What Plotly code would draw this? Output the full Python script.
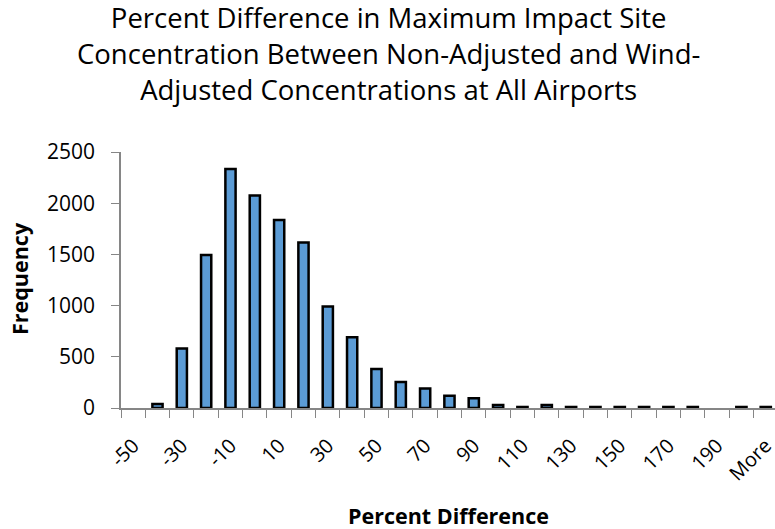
import plotly.graph_objects as go

# Histogram bins (percent difference) and their frequencies
categories = [str(v) for v in range(-50, 201, 10)] + ["More"]
frequency = [0, 40, 580, 1495, 2335, 2075, 1835, 1615, 990, 690, 380, 255, 190,
             120, 95, 30, 10, 30, 10, 10, 10, 10, 10, 10, 0, 10, 10]
# every other bin is labelled on the axis
label_categories = categories[::2]

chart_title = ("Percent Difference in Maximum Impact Site<br>"
               "Concentration Between Non-Adjusted and Wind-<br>"
               "Adjusted Concentrations at All Airports")
x_title = "Percent Difference"
y_title = "Frequency"

FONT = "Open Sans, sans-serif"
AXIS_GRAY = "#868686"

W, H = 775, 529
L, R, T, B = 121, 0, 152, 121
plot_w = W - L - R
plot_h = H - T - B


def px_to_paper(px, py):
    """Convert a page pixel position to paper coordinates."""
    return (px - L) / plot_w, (H - B - py) / plot_h


# empty bins get no outline so nothing is drawn for them
outline_widths = [2.5 if f > 0 else 0 for f in frequency]

fig = go.Figure()
fig.add_trace(go.Bar(
    x=categories,
    y=frequency,
    marker=dict(color="#5B9BD5", line=dict(color="black", width=outline_widths)),
    xaxis="x",
    yaxis="y",
))
# invisible trace so the label axis knows its categories
fig.add_trace(go.Scatter(
    x=categories, y=[0] * len(categories), xaxis="x2", yaxis="y",
    mode="markers", marker=dict(opacity=0), hoverinfo="skip",
))

x_range = [-0.5, len(categories) - 0.62]

tx, ty = px_to_paper(388, 53)
xtx, xty = px_to_paper(449, 515)
ytx, yty = px_to_paper(19, 279)

fig.update_layout(
    width=W,
    height=H,
    margin=dict(l=L, r=R, t=T, b=B, autoexpand=False),
    plot_bgcolor="white",
    paper_bgcolor="white",
    showlegend=False,
    bargap=0.58,
    font=dict(family=FONT, color="black"),
    # category axis carrying the bars; ticks sit on the bin boundaries
    xaxis=dict(
        type="category",
        categoryorder="array",
        categoryarray=categories,
        range=x_range,
        tickson="boundaries",
        ticks="outside",
        ticklen=8,
        tickcolor=AXIS_GRAY,
        showticklabels=False,
        showline=True,
        linecolor=AXIS_GRAY,
        linewidth=1.5,
        showgrid=False,
        zeroline=False,
    ),
    # overlay axis that only carries the rotated bin labels
    xaxis2=dict(
        type="category",
        categoryorder="array",
        categoryarray=categories,
        range=x_range,
        overlaying="x",
        side="bottom",
        tickmode="array",
        tickvals=label_categories,
        ticktext=label_categories,
        tickangle=-45,
        ticks="",
        ticklabelstandoff=21,
        tickfont=dict(size=20),
        showline=False,
        showgrid=False,
        zeroline=False,
    ),
    yaxis=dict(
        range=[0, 2500],
        tickmode="linear",
        tick0=0,
        dtick=500,
        ticks="outside",
        ticklen=8,
        tickcolor=AXIS_GRAY,
        tickfont=dict(size=21),
        ticklabelstandoff=12,
        showline=True,
        linecolor=AXIS_GRAY,
        linewidth=1.5,
        showgrid=False,
        zeroline=False,
    ),
    annotations=[
        dict(text=chart_title, xref="paper", yref="paper", x=tx, y=ty,
             xanchor="center", yanchor="middle", showarrow=False,
             font=dict(size=27.5, family=FONT, color="black")),
        dict(text=f"<b>{x_title}</b>", xref="paper", yref="paper", x=xtx, y=xty,
             xanchor="center", yanchor="middle", showarrow=False,
             font=dict(size=21.5, family=FONT, color="black")),
        dict(text=f"<b>{y_title}</b>", xref="paper", yref="paper", x=ytx, y=yty,
             xanchor="center", yanchor="middle", showarrow=False, textangle=-90,
             font=dict(size=21.5, family=FONT, color="black")),
    ],
)

fig.write_html("out.html")
